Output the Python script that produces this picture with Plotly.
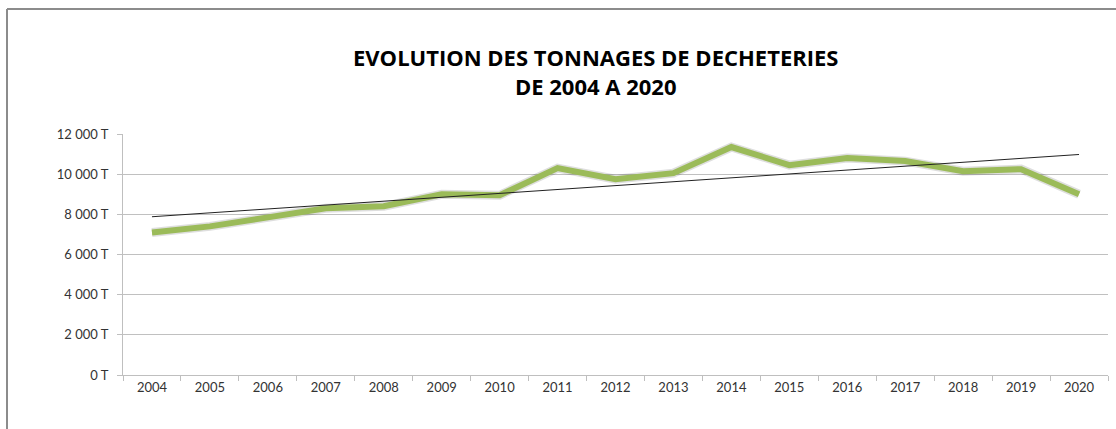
import plotly.graph_objects as go

# Data
years = [str(y) for y in range(2004, 2021)]
tonnages = [7100, 7400, 7850, 8300, 8400, 9000, 8950, 10300, 9750, 10050,
            11350, 10450, 10800, 10650, 10150, 10250, 9000]
trend_years = ["2004", "2020"]
trend_values = [7880, 10980]
y_ticks = [0, 2000, 4000, 6000, 8000, 10000, 12000]
y_labels = ["0 T", "2 000 T", "4 000 T", "6 000 T", "8 000 T", "10 000 T", "12 000 T"]

W, H = 1116, 429
L, R, T, B = 123, 8, 134, 54
pw, ph = W - L - R, H - T - B

fig = go.Figure()

# soft shadow under the main line
fig.add_trace(go.Scatter(
    x=years, y=tonnages, mode="lines",
    line=dict(color="rgba(0,0,0,0.13)", width=9),
    hoverinfo="skip", showlegend=False,
))
fig.add_trace(go.Scatter(
    x=years, y=tonnages, mode="lines", name="Tonnages",
    line=dict(color="#9BBB59", width=6),
    showlegend=False,
))
fig.add_trace(go.Scatter(
    x=trend_years, y=trend_values, mode="lines", name="Tendance",
    line=dict(color="#222222", width=1),
    showlegend=False,
))

font_fam = "Lato, 'Open Sans', sans-serif"

fig.update_layout(
    width=W, height=H,
    margin=dict(l=L, r=R, t=T, b=B),
    paper_bgcolor="white", plot_bgcolor="white",
    font=dict(family=font_fam, size=13, color="#333333"),
    xaxis=dict(
        type="category", categoryorder="array", categoryarray=years,
        showgrid=False, showline=True, linecolor="#bfbfbf", linewidth=1,
        ticks="outside", tickson="boundaries", ticklen=5, tickcolor="#bfbfbf",
        tickfont=dict(family=font_fam, size=13, color="#333333"),
        range=[-0.5, len(years) - 0.5],
    ),
    yaxis=dict(
        range=[0, 12000], tickmode="array", tickvals=y_ticks, ticktext=y_labels,
        showgrid=True, gridcolor="#c0c0c0", gridwidth=1,
        showline=True, linecolor="#bfbfbf", linewidth=1,
        ticks="outside", ticklen=5, tickcolor="#bfbfbf",
        ticklabelstandoff=6,
        tickfont=dict(family=font_fam, size=13, color="#333333"),
        zeroline=False,
    ),
)

fig.add_annotation(
    text="<b>EVOLUTION DES TONNAGES DE DECHETERIES<br>DE 2004 A 2020</b>",
    xref="paper", yref="paper",
    x=(595 - L) / pw, y=1 + (T - 71) / ph,
    xanchor="center", yanchor="middle", showarrow=False, align="center",
    font=dict(family="'Open Sans', sans-serif", size=22, color="black"),
)

# outer chart frame (left and top edges visible in the reference)
x_left = (7 - L) / pw
y_top = 1 + (T - 9) / ph
fig.add_shape(type="line", xref="paper", yref="paper",
              x0=x_left, x1=x_left, y0=-B / ph - 0.01, y1=y_top,
              line=dict(color="#8c8c8c", width=2))
fig.add_shape(type="line", xref="paper", yref="paper",
              x0=x_left, x1=(W - L) / pw + 0.01, y0=y_top, y1=y_top,
              line=dict(color="#8c8c8c", width=2))

fig.write_html("out.html", config={"displayModeBar": False},
               post_script="document.body.style.margin='0';")
